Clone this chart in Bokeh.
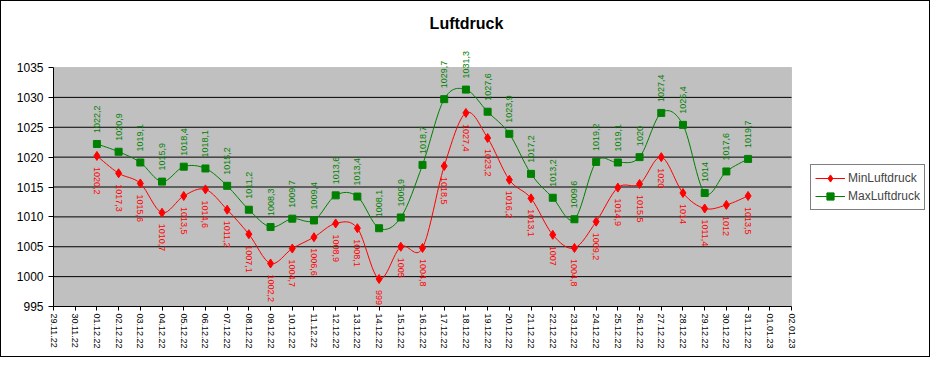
import math
from bokeh.plotting import figure
from bokeh.models import (ColumnDataSource, FixedTicker, Legend, LegendItem, Range1d,
                          BoxAnnotation, Label)
from bokeh.core.properties import value
from bokeh.embed import file_html
from bokeh.resources import INLINE

tick_labels = ["29.11.22", "30.11.22", "01.12.22", "02.12.22", "03.12.22", "04.12.22",
               "05.12.22", "06.12.22", "07.12.22", "08.12.22", "09.12.22", "10.12.22",
               "11.12.22", "12.12.22", "13.12.22", "14.12.22", "15.12.22", "16.12.22",
               "17.12.22", "18.12.22", "19.12.22", "20.12.22", "21.12.22", "22.12.22",
               "23.12.22", "24.12.22", "25.12.22", "26.12.22", "27.12.22", "28.12.22",
               "29.12.22", "30.12.22", "31.12.22", "01.01.23", "02.01.23"]

days = ["01.12.22", "02.12.22", "03.12.22", "04.12.22", "05.12.22", "06.12.22",
        "07.12.22", "08.12.22", "09.12.22", "10.12.22", "11.12.22", "12.12.22",
        "13.12.22", "14.12.22", "15.12.22", "16.12.22", "17.12.22", "18.12.22",
        "19.12.22", "20.12.22", "21.12.22", "22.12.22", "23.12.22", "24.12.22",
        "25.12.22", "26.12.22", "27.12.22", "28.12.22", "29.12.22", "30.12.22",
        "31.12.22"]

min_luftdruck = [1020.2, 1017.3, 1015.6, 1010.7, 1013.5, 1014.6, 1011.2, 1007.1, 1002.2,
                 1004.7, 1006.6, 1008.9, 1008.1, 999.6, 1005, 1004.8, 1018.5, 1027.4,
                 1023.2, 1016.2, 1013.1, 1007, 1004.8, 1009.2, 1014.9, 1015.5, 1020,
                 1014, 1011.4, 1012, 1013.5]

max_luftdruck = [1022.2, 1020.9, 1019.1, 1015.9, 1018.4, 1018.1, 1015.2, 1011.2, 1008.3,
                 1009.7, 1009.4, 1013.6, 1013.4, 1008.1, 1009.9, 1018.7, 1029.7, 1031.3,
                 1027.6, 1023.9, 1017.2, 1013.2, 1009.6, 1019.2, 1019.1, 1020, 1027.4,
                 1025.4, 1014, 1017.6, 1019.7]

y_ticks = [995, 1000, 1005, 1010, 1015, 1020, 1025, 1030, 1035]

RED = "#ff0000"
GREEN = "#008000"
FONT = "Liberation Sans"

# layout (pixels inside the figure)
W, H = 930, 357
PLOT_L, PLOT_R, PLOT_T, PLOT_B = 52, 790, 66, 305

xs = [tick_labels.index(d) for d in days]
x_last = len(tick_labels) - 1
y_lo, y_hi = y_ticks[0], y_ticks[-1]

px_x = (PLOT_R - PLOT_L) / x_last
px_y = (PLOT_B - PLOT_T) / (y_hi - y_lo)
x_end = (W - PLOT_L) / px_x
y_end = y_lo + PLOT_B / px_y


def fmt(v):
    if float(v) == int(v):
        return str(int(v))
    return f"{v:.1f}".replace(".", ",")


def smooth_source(x, y):
    n = len(x)
    d = dict(x0=[], y0=[], x1=[], y1=[], cx0=[], cy0=[], cx1=[], cy1=[])
    for i in range(n - 1):
        a = max(i - 1, 0)
        b = min(i + 2, n - 1)
        d["x0"].append(x[i]); d["y0"].append(y[i])
        d["x1"].append(x[i + 1]); d["y1"].append(y[i + 1])
        d["cx0"].append(x[i] + (x[i + 1] - x[a]) / 6.0)
        d["cy0"].append(y[i] + (y[i + 1] - y[a]) / 6.0)
        d["cx1"].append(x[i + 1] - (x[b] - x[i]) / 6.0)
        d["cy1"].append(y[i + 1] - (y[b] - y[i]) / 6.0)
    return ColumnDataSource(d)


p = figure(width=W, height=H, output_backend="svg", toolbar_location=None,
           x_range=Range1d(0, x_end), y_range=Range1d(y_lo, y_end),
           min_border_left=PLOT_L, min_border_right=0, min_border_top=0,
           min_border_bottom=H - PLOT_B)
p.styles = {"border": "1px solid black"}
p.title.text = ""
p.title.visible = False

p.background_fill_color = "white"
p.border_fill_color = "white"
p.outline_line_color = None

# plot area (gray)
p.add_layout(BoxAnnotation(left=0, right=x_last, bottom=y_lo, top=y_hi,
                           fill_color="#c0c0c0", fill_alpha=1,
                           line_color="#808080", line_width=1, level="image"))

p.xgrid.visible = False
p.ygrid.visible = False
grid_y = y_ticks[1:-1]
p.segment(x0=[0] * len(grid_y), x1=[x_last] * len(grid_y), y0=grid_y, y1=grid_y,
          line_color="black", line_width=1)

p.yaxis.ticker = FixedTicker(ticks=y_ticks)
p.yaxis.bounds = (y_lo, y_hi)
p.yaxis.major_label_text_font = FONT
p.yaxis.major_label_text_font_size = "12px"
p.yaxis.major_label_text_color = "black"
p.yaxis.major_tick_out = 5
p.yaxis.major_tick_in = 0
p.yaxis.minor_tick_line_color = None
p.yaxis.major_label_standoff = 5
p.yaxis.axis_line_color = "black"

p.xaxis.ticker = FixedTicker(ticks=list(range(len(tick_labels))))
p.xaxis.bounds = (0, x_last)
p.xaxis.major_label_overrides = {i: t for i, t in enumerate(tick_labels)}
p.xaxis.major_label_orientation = -math.pi / 2
p.xaxis.major_label_text_font = FONT
p.xaxis.major_label_text_font_size = "9px"
p.xaxis.major_label_text_color = "black"
p.xaxis.major_tick_out = 4
p.xaxis.major_tick_in = 0
p.xaxis.minor_tick_line_color = None
p.xaxis.major_label_standoff = 3
p.xaxis.axis_line_color = "black"

# smoothed lines
p.bezier(x0="x0", y0="y0", x1="x1", y1="y1", cx0="cx0", cy0="cy0", cx1="cx1", cy1="cy1",
         source=smooth_source(xs, max_luftdruck), line_color=GREEN, line_width=1)
p.bezier(x0="x0", y0="y0", x1="x1", y1="y1", cx0="cx0", cy0="cy0", cx1="cx1", cy1="cy1",
         source=smooth_source(xs, min_luftdruck), line_color=RED, line_width=1)

src_max = ColumnDataSource(dict(x=xs, y=max_luftdruck, lbl=[fmt(v) for v in max_luftdruck]))
src_min = ColumnDataSource(dict(x=xs, y=min_luftdruck, lbl=[fmt(v) for v in min_luftdruck]))

# legend line proxies: real data, drawn with their (invisible) muted glyph only
leg_max = p.line(x="x", y="y", source=src_max, line_color=GREEN, line_width=1,
                 muted_alpha=0)
leg_max.muted = True
leg_min = p.line(x="x", y="y", source=src_min, line_color=RED, line_width=1,
                 muted_alpha=0)
leg_min.muted = True

sq = p.scatter(x="x", y="y", source=src_max, marker="square", size=7,
               fill_color=GREEN, line_color=GREEN)
dm = p.scatter(x="x", y="y", source=src_min, marker="diamond", size=9,
               fill_color=RED, line_color=RED)

p.text(x="x", y="y", text="lbl", source=src_max, angle=math.pi / 2,
       text_align="left", text_baseline="middle", y_offset=-11,
       text_font=value(FONT), text_font_size="9px", text_color=GREEN)
p.text(x="x", y="y", text="lbl", source=src_min, angle=-math.pi / 2,
       text_align="left", text_baseline="middle", y_offset=11,
       text_font=value(FONT), text_font_size="9px", text_color=RED)

# title
p.add_layout(Label(x=W / 2 - PLOT_L, y=PLOT_B - 22, x_units="screen", y_units="screen",
                   text="Luftdruck", text_align="center", text_baseline="middle",
                   text_font=FONT, text_font_size="16px", text_font_style="bold",
                   text_color="black"))

legend = Legend(items=[LegendItem(label="MinLuftdruck", renderers=[leg_min, dm]),
                       LegendItem(label="MaxLuftdruck", renderers=[leg_max, sq])],
                location=(809 - PLOT_L, PLOT_B - 209), orientation="vertical")
legend.border_line_color = "black"
legend.border_line_width = 1
legend.background_fill_color = "white"
legend.background_fill_alpha = 1
legend.label_text_font = FONT
legend.label_text_font_size = "12px"
legend.glyph_width = 30
legend.glyph_height = 18
legend.label_height = 18
legend.spacing = 0
legend.padding = 4
legend.margin = 0
legend.label_standoff = 3
legend.click_policy = "none"
p.add_layout(legend)

open("out.html", "w").write(file_html(p, INLINE))
